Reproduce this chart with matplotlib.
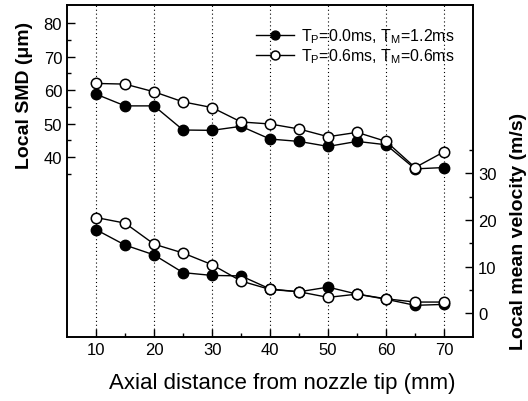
import matplotlib
matplotlib.use("Agg")
import matplotlib.pyplot as plt
from matplotlib.ticker import FixedLocator

plt.rcParams['font.family'] = ['Liberation Sans', 'DejaVu Sans']
plt.rcParams['mathtext.fontset'] = 'custom'
plt.rcParams['mathtext.rm'] = 'Liberation Sans'
plt.rcParams['mathtext.it'] = 'Liberation Sans'

x = [10, 15, 20, 25, 30, 35, 40, 45, 50, 55, 60, 65, 70]
smd_a = [58.8, 55.3, 55.3, 48.1, 48.0, 49.2, 45.4, 44.7, 43.2, 44.7, 43.7, 36.5, 36.9]
smd_b = [62.0, 61.8, 59.5, 56.5, 54.8, 50.5, 49.9, 48.4, 46.1, 47.4, 44.7, 36.9, 41.6]
vel_a = [17.9, 14.6, 12.5, 8.7, 8.1, 8.0, 5.2, 4.6, 5.6, 4.1, 3.0, 1.7, 1.9]
vel_b = [20.5, 19.3, 14.8, 12.9, 10.4, 6.9, 5.1, 4.6, 3.4, 4.1, 3.1, 2.4, 2.4]
label_a = r'T$_\mathregular{P}$=0.0ms, T$_\mathregular{M}$=1.2ms'
label_b = r'T$_\mathregular{P}$=0.6ms, T$_\mathregular{M}$=0.6ms'

fig = plt.figure(figsize=(5.28, 4.02), dpi=100)
ax = fig.add_axes([0.127, 0.159, 0.769, 0.826])
ax2 = ax.twinx()

ms = 7.5
kw_a = dict(color='black', marker='o', markersize=ms, markerfacecolor='black',
            markeredgecolor='black', linewidth=1.0)
kw_b = dict(color='black', marker='o', markersize=ms, markerfacecolor='white',
            markeredgecolor='black', markeredgewidth=1.1, linewidth=1.0)

la, = ax.plot(x, smd_a, **kw_a, zorder=3)
lb, = ax.plot(x, smd_b, **kw_b, zorder=4)
ax2.plot(x, vel_a, **kw_a, zorder=3)
ax2.plot(x, vel_b, **kw_b, zorder=4)

ax.set_xlim(5, 75)
ax.set_ylim(-13.7, 85.4)
ax2.set_ylim(-5.1, 66)

for xv in [10, 20, 30, 40, 50, 60, 70]:
    ax.axvline(xv, color='black', linestyle=(0, (1, 2.5)), linewidth=0.8, zorder=1)

ax.xaxis.set_major_locator(FixedLocator([10, 20, 30, 40, 50, 60, 70]))
ax.xaxis.set_minor_locator(FixedLocator([15, 25, 35, 45, 55, 65]))
ax.yaxis.set_major_locator(FixedLocator([40, 50, 60, 70, 80]))
ax.yaxis.set_minor_locator(FixedLocator([35, 45, 55, 65, 75]))
ax2.yaxis.set_major_locator(FixedLocator([0, 10, 20, 30]))
ax2.yaxis.set_minor_locator(FixedLocator([5, 15, 25, 35]))

for a in (ax, ax2):
    a.tick_params(which='major', direction='in', length=6, width=1.0, labelsize=12)
    a.tick_params(which='minor', direction='in', length=3, width=1.0)
    for s in a.spines.values():
        s.set_linewidth(1.2)

ax.set_xlabel('Axial distance from nozzle tip (mm)', fontsize=16)
ax.xaxis.set_label_coords(0.53, -0.105)
ax.set_ylabel('Local SMD (\u03bcm)', fontsize=14, fontweight='bold')
ax.yaxis.set_label_coords(-0.085, 0.73)
ax2.set_ylabel('Local mean velocity (m/s)', fontsize=14, fontweight='bold')
ax2.yaxis.set_label_coords(1.091, 0.32)

ax.legend([la, lb], [label_a, label_b], loc='upper right', frameon=False,
          fontsize=11.5, handlelength=2.4, handletextpad=0.4, labelspacing=0.1,
          borderaxespad=0.0, bbox_to_anchor=(0.97, 0.955), markerscale=0.85)

fig.savefig('out.png', dpi=100)
